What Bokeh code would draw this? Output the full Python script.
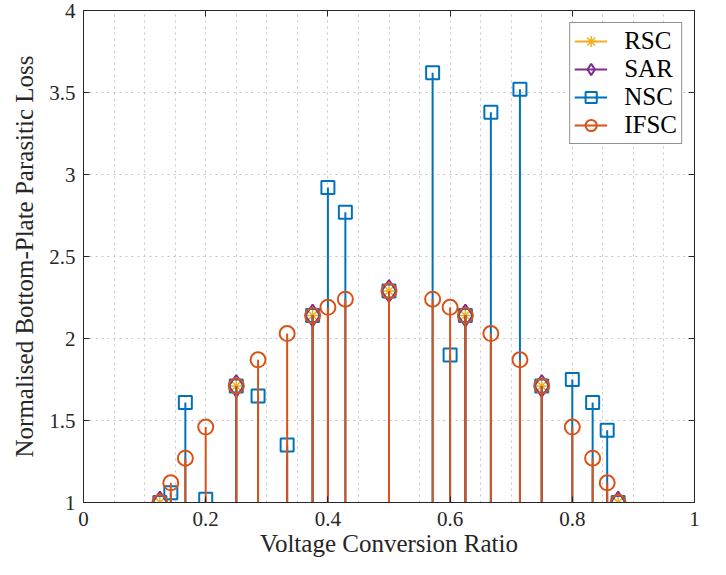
from bokeh.plotting import figure
from bokeh.models import (LinearAxis, PrintfTickFormatter, FixedTicker, Legend,
                          LegendItem, Range1d, ColumnDataSource, CustomJSTickFormatter)
from bokeh.embed import file_html
from bokeh.resources import INLINE

# ---------------- data ----------------
rsc_x = [0.125, 0.25, 0.375, 0.5, 0.625, 0.75, 0.875]
rsc_y = [1.00, 1.71, 2.14, 2.29, 2.14, 1.71, 1.00]
sar_x = [0.125, 0.25, 0.375, 0.5, 0.625, 0.75, 0.875]
sar_y = [1.00, 1.71, 2.14, 2.29, 2.14, 1.71, 1.00]
nsc_x = [0.1250, 0.1429, 0.1667, 0.2000, 0.2500, 0.2857, 0.3333, 0.3750, 0.4000, 0.4286,
         0.5000, 0.5714, 0.6000, 0.6250, 0.6667, 0.7143, 0.7500, 0.8000, 0.8333, 0.8571, 0.8750]
nsc_y = [1.00, 1.06, 1.61, 1.02, 1.71, 1.65, 1.35, 2.14, 2.92, 2.77,
         2.29, 3.62, 1.90, 2.14, 3.38, 3.52, 1.71, 1.75, 1.61, 1.44, 1.00]
ifsc_x = [0.1250, 0.1429, 0.1667, 0.2000, 0.2500, 0.2857, 0.3333, 0.3750, 0.4000, 0.4286,
          0.5000, 0.5714, 0.6000, 0.6250, 0.6667, 0.7143, 0.7500, 0.8000, 0.8333, 0.8571, 0.8750]
ifsc_y = [1.00, 1.12, 1.27, 1.46, 1.71, 1.87, 2.03, 2.14, 2.19, 2.24,
          2.29, 2.24, 2.19, 2.14, 2.03, 1.87, 1.71, 1.46, 1.27, 1.12, 1.00]
baseline = 1.0

x_ticks = [0, 0.2, 0.4, 0.6, 0.8, 1]
y_ticks = [1, 1.5, 2, 2.5, 3, 3.5, 4]
x_grid = [0.05, 0.1, 0.15, 0.2, 0.25, 0.3, 0.35, 0.4, 0.45, 0.5, 0.55, 0.6,
          0.65, 0.7, 0.75, 0.8, 0.85, 0.9, 0.95]

x_label = "Voltage Conversion Ratio"
y_label = "Normalised Bottom-Plate Parasitic Loss"

# ---------------- style ----------------
FONT = "Liberation Serif"
AX = "#262626"
C_RSC, C_SAR, C_NSC, C_IFSC = "#EDB120", "#7E2F8E", "#0072BD", "#D95319"

p = figure(width=710, height=559, x_range=Range1d(0, 1), y_range=Range1d(1, 4),
           output_backend="svg", toolbar_location=None,
           min_border_left=83, min_border_right=16, min_border_top=10, min_border_bottom=57)
p.background_fill_color = "white"
p.border_fill_color = "white"
p.outline_line_color = AX
p.outline_line_width = 1

for ax, ticks in ((p.xaxis[0], x_ticks), (p.yaxis[0], y_ticks)):
    ax.ticker = FixedTicker(ticks=ticks)
    ax.formatter = PrintfTickFormatter(format="%g")
    ax.major_tick_in = 6
    ax.major_tick_out = 0
    ax.minor_tick_in = 0
    ax.minor_tick_out = 0
    ax.axis_line_color = AX
    ax.major_tick_line_color = AX
    ax.major_label_text_font = FONT
    ax.major_label_text_font_size = "21px"
    ax.major_label_text_color = AX
    ax.axis_label_text_font = FONT
    ax.axis_label_text_font_size = "25px"
    ax.axis_label_text_font_style = "normal"
    ax.axis_label_text_color = AX

p.xaxis.axis_label = x_label
p.yaxis.axis_label = y_label
p.xaxis.major_label_standoff = 9
p.xaxis.axis_label_standoff = 1
p.yaxis.major_label_standoff = 8
p.yaxis.axis_label_standoff = 8

for place, ticks in (("above", x_ticks), ("right", y_ticks)):
    ax = LinearAxis(ticker=FixedTicker(ticks=ticks),
                    formatter=CustomJSTickFormatter(code="return ''"),
                    major_label_text_font_size="0px", major_label_standoff=0,
                    axis_label_standoff=0,
                    major_tick_in=6, major_tick_out=0, minor_tick_in=0, minor_tick_out=0,
                    axis_line_color=AX, major_tick_line_color=AX)
    p.add_layout(ax, place)

p.xgrid.ticker = FixedTicker(ticks=x_grid)
p.ygrid.ticker = FixedTicker(ticks=y_ticks)
for g in (p.xgrid[0], p.ygrid[0]):
    g.grid_line_color = "#c4c4c4"
    g.grid_line_dash = "2 4"
    g.grid_line_width = 1

items = []
series = [
    ("RSC", rsc_x, rsc_y, C_RSC, "asterisk", 12, 1.5),
    ("SAR", sar_x, sar_y, C_SAR, "diamond", 22, 2),
    ("NSC", nsc_x, nsc_y, C_NSC, "square", 13, 2),
    ("IFSC", ifsc_x, ifsc_y, C_IFSC, "circle", 15, 2),
]
for name, xs, ys, col, marker, size, lw in series:
    src = ColumnDataSource(dict(x=xs, y=ys, y0=[baseline] * len(xs)))
    seg = p.segment(x0="x", y0="y0", x1="x", y1="y", source=src, line_color=col, line_width=2)
    sc = p.scatter(x="x", y="y", source=src, marker=marker, size=size,
                   line_color=col, line_width=lw, fill_color=None)
    items.append(LegendItem(label=name, renderers=[seg, sc]))

legend = Legend(items=items, location="top_right", margin=12, padding=4, spacing=0,
                glyph_width=33, glyph_height=28, label_height=28, label_standoff=17,
                label_text_font=FONT, label_text_font_size="25px", label_text_color="black",
                border_line_color=AX, border_line_width=1, background_fill_alpha=1)
p.add_layout(legend, "center")

open("out.html", "w").write(file_html(p, INLINE))
